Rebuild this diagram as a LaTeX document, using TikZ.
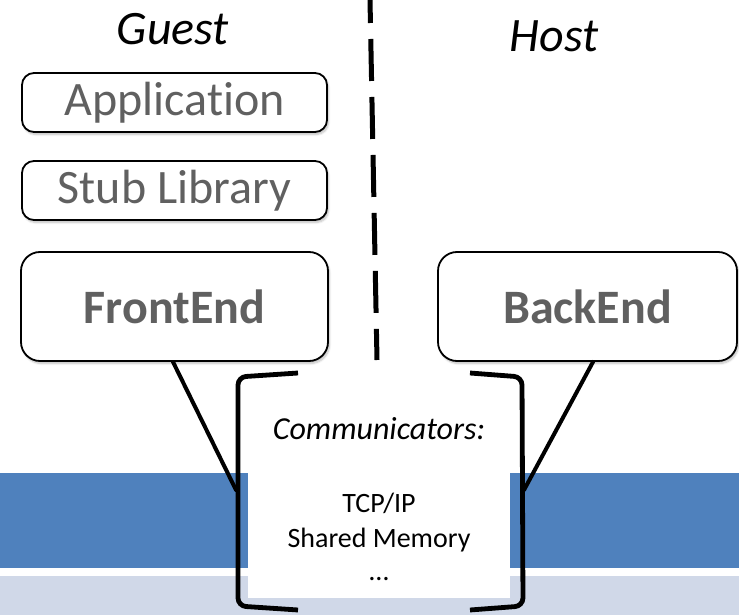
\documentclass[tikz,border=0pt]{standalone}
\usepackage{fontspec}
\setmainfont{Carlito}[Ligatures=NoCommon]
\usetikzlibrary{calc,shadows.blur}
\definecolor{bandblue}{HTML}{4F81BD}
\definecolor{bandlight}{HTML}{D0D8E8}
\definecolor{labelgray}{HTML}{606060}
\tikzset{
  layerbox/.style={draw=black, line width=1.8pt, fill=white, text=labelgray,
    inner sep=0pt, align=center,
    blur shadow={shadow xshift=1.5pt, shadow yshift=-2.5pt,
      shadow opacity=25, shadow blur steps=6}},
  smallbox/.style={layerbox, rounded corners=12pt, minimum height=59pt,
    font=\fontsize{48}{54}\selectfont},
  endbox/.style={layerbox, rounded corners=19pt, minimum height=109pt,
    font=\fontsize{48}{54}\selectfont\bfseries},
  sidelabel/.style={anchor=base, inner sep=0pt,
    font=\fontsize{48}{54}\selectfont\itshape},
  commtext/.style={anchor=base, inner sep=0pt,
    font=\fontsize{28}{32}\selectfont},
  divider/.style={line width=5pt, dash pattern=on 42pt off 16pt, dash phase=19pt},
  link/.style={line width=4pt, line cap=round},
  bracket/.style={line width=4.8pt, rounded corners=8pt},
}
\begin{document}
\begin{tikzpicture}[x=1pt, y=-1pt]
\useasboundingbox (0,0) rectangle (739,615);

% background bands
\fill[bandblue] (0,473) rectangle (739,568);
\fill[bandlight] (0,576) rectangle (739,615);

% guest / host divider
\coordinate (divtop) at (370,0);
\coordinate (divbot) at (377,360);
\draw[divider] (divtop) -- (divbot);

\node[sidelabel] (guest) at (173,45) {Guest};
\node[sidelabel] (host) at (554,52) {Host};

% guest stack
\node[smallbox, minimum width=305pt] (app) at (174.5,102.5) {Application};
\node[smallbox, minimum width=305pt] (stub) at (174.5,190.5) {Stub Library};
\node[endbox, minimum width=307pt] (fe) at (174.5,306.5) {FrontEnd};
\node[endbox, minimum width=299pt] (be) at (587.5,306.5) {BackEnd};

% communicator panel
\fill[white] (248,380) rectangle (510,598);
\coordinate (feend) at (236,490);
\coordinate (beend) at (524,490);
\draw[link] ($(fe.south)+(-1.5,0)$) -- (feend);
\draw[link] ($(be.south)+(5.5,0)$) -- (beend);
\draw[bracket] (298,373) -- (238,377) -- (238,606) -- (298,610);
\draw[bracket] (470,373) -- (522,377) -- (523,606) -- (470,610);

\node[commtext, font=\fontsize{32}{36}\selectfont\itshape] (comm) at (379,439) {Communicators:};
\node[commtext] (tcp) at (379,512) {TCP/IP};
\node[commtext] (shm) at (379,547) {Shared Memory};
\node[commtext] (more) at (379,580) {…};
\end{tikzpicture}
\end{document}
